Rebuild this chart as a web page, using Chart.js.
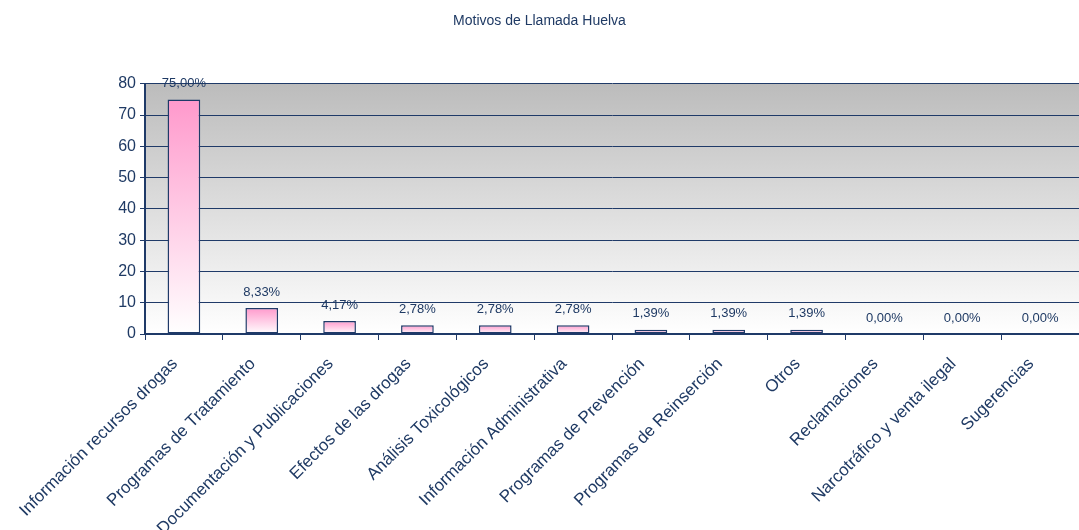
<!DOCTYPE html>
<html>
<head>
<meta charset="utf-8">
<script src="https://cdn.jsdelivr.net/npm/chart.js@4/dist/chart.umd.min.js"></script>
<style>
  html, body { margin: 0; padding: 0; background: #ffffff; }
  #wrap { width: 1079px; height: 530px; position: relative; }
</style>
</head>
<body>
<div id="wrap"><canvas id="chart"></canvas></div>
<script>
const categories = [
    'Información recursos drogas',
    'Programas de Tratamiento',
    'Documentación y Publicaciones',
    'Efectos de las drogas',
    'Análisis Toxicológicos',
    'Información Administrativa',
    'Programas de Prevención',
    'Programas de Reinserción',
    'Otros',
    'Reclamaciones',
    'Narcotráfico y venta ilegal',
    'Sugerencias'
];
const values = [75.00, 8.33, 4.17, 2.78, 2.78, 2.78, 1.39, 1.39, 1.39, 0, 0, 0];
const valueLabels = ['75,00%', '8,33%', '4,17%', '2,78%', '2,78%', '2,78%', '1,39%', '1,39%', '1,39%', '0,00%', '0,00%', '0,00%'];

const navy = '#1f3a68';
const textColor = '#1f3a64';
const fontFamily = '"Liberation Sans", Arial, sans-serif';

// Grey-to-white plot background, like the old spreadsheet chart
const plotBackground = {
    id: 'plotBackground',
    beforeDraw(chart) {
        const { ctx, chartArea: a } = chart;
        const g = ctx.createLinearGradient(0, a.top, 0, a.bottom);
        g.addColorStop(0, '#bcbcbc');
        g.addColorStop(1, '#ffffff');
        ctx.save();
        ctx.fillStyle = g;
        ctx.fillRect(a.left, a.top, a.right - a.left, a.bottom - a.top);
        ctx.restore();
    }
};

// Percentage labels above each bar
const valueText = {
    id: 'valueText',
    afterDatasetsDraw(chart) {
        const { ctx } = chart;
        const meta = chart.getDatasetMeta(0);
        ctx.save();
        ctx.font = '13px ' + fontFamily;
        ctx.fillStyle = textColor;
        ctx.textAlign = 'center';
        ctx.textBaseline = 'middle';
        meta.data.forEach((bar, i) => {
            ctx.fillText(valueLabels[i], bar.x, bar.y - 16);
        });
        ctx.restore();
    }
};

const ctx = document.getElementById('chart').getContext('2d');
new Chart(ctx, {
    type: 'bar',
    data: {
        labels: categories,
        datasets: [{
            data: values,
            backgroundColor: function(context) {
                const chart = context.chart;
                const a = chart.chartArea;
                const yScale = chart.scales.y;
                if (!a || !yScale) return '#ff99cc';
                const v = context.raw || 0;
                let top = yScale.getPixelForValue(v);
                if (top > a.bottom - 1) top = a.bottom - 1;
                const g = chart.ctx.createLinearGradient(0, top, 0, a.bottom);
                g.addColorStop(0, '#ff99cc');
                g.addColorStop(1, '#ffffff');
                return g;
            },
            borderColor: navy,
            borderWidth: 1.5,
            borderSkipped: false,
            categoryPercentage: 1,
            barPercentage: 0.42
        }]
    },
    options: {
        responsive: true,
        maintainAspectRatio: false,
        animation: false,
        layout: {
            padding: { left: 0, right: 0, top: 0, bottom: 0 }
        },
        scales: {
            x: {
                offset: true,
                afterFit(scale) { scale.height = 196; },
                grid: {
                    display: true,
                    drawOnChartArea: false,
                    drawTicks: true,
                    tickLength: 6,
                    tickColor: navy,
                    offset: true
                },
                border: { color: navy, width: 2 },
                ticks: {
                    color: textColor,
                    font: { family: fontFamily, size: 17 },
                    minRotation: 45,
                    maxRotation: 45,
                    autoSkip: false,
                    padding: 14,
                    labelOffset: -9
                }
            },
            y: {
                min: 0,
                max: 80,
                afterFit(scale) { scale.width = 145; },
                grid: {
                    color: navy,
                    lineWidth: 1,
                    tickLength: 5,
                    tickColor: navy
                },
                border: { color: navy, width: 2 },
                ticks: {
                    stepSize: 10,
                    color: textColor,
                    font: { family: fontFamily, size: 16 },
                    padding: 4
                }
            }
        },
        plugins: {
            legend: { display: false },
            tooltip: { enabled: false },
            title: {
                display: true,
                text: 'Motivos de Llamada Huelva',
                color: textColor,
                font: { family: fontFamily, size: 14, weight: 'normal' },
                padding: { top: 13, bottom: 54 }
            }
        }
    },
    plugins: [plotBackground, valueText]
});
</script>
</body>
</html>
